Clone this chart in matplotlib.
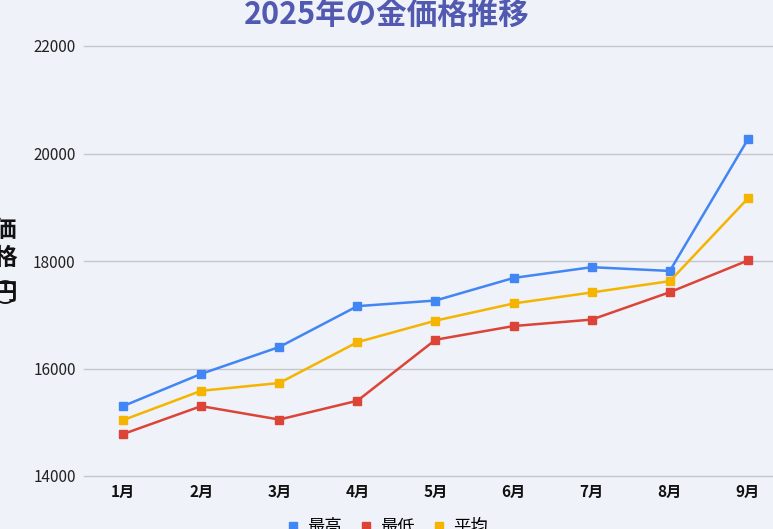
import matplotlib
matplotlib.use("Agg")
import matplotlib.pyplot as plt
from matplotlib.lines import Line2D

plt.rcParams["font.family"] = ["Noto Sans CJK JP", "DejaVu Sans"]

# data
months = ["1月", "2月", "3月", "4月", "5月", "6月", "7月", "8月", "9月"]
high = [15300, 15900, 16400, 17160, 17265, 17685, 17885, 17815, 20265]
low = [14780, 15300, 15050, 15400, 16535, 16790, 16910, 17420, 18010]
avg = [15040, 15585, 15730, 16490, 16890, 17210, 17415, 17625, 19165]
series_names = ["最高", "最低", "平均"]
y_ticks = [14000, 16000, 18000, 20000, 22000]

colors = ["#4285f4", "#db4437", "#f4b400"]
bg = "#eff2f8"

W, H = 773, 529
fig = plt.figure(figsize=(W / 100, H / 100), dpi=100, facecolor=bg)
# plot area runs past the right edge like the reference crop
ax = fig.add_axes([84 / W, 1 - 476 / H, (787 - 84) / W, (476 - 46) / H])
ax.set_facecolor(bg)

x = list(range(len(months)))
for vals, c in zip([high, low, avg], colors):
    ax.plot(x, vals, color=c, lw=1.8, marker="s", ms=5.5, zorder=3)

ax.set_xlim(-0.5, len(months) - 0.5)
ax.set_ylim(14000, 22000)
ax.set_yticks(y_ticks)
ax.set_yticklabels([str(t) for t in y_ticks], fontsize=11, color="#222222")
ax.set_xticks(x)
ax.set_xticklabels(months, fontsize=11, fontweight="bold", color="#111111")
ax.tick_params(axis="both", length=0)
ax.tick_params(axis="y", pad=6)
ax.tick_params(axis="x", pad=6)
ax.grid(axis="y", color="#c4c6cc", lw=1)
for gl in ax.get_ygridlines():
    gl.set_clip_on(False)
ax.set_axisbelow(True)
for s in ax.spines.values():
    s.set_visible(False)

fig.text(387 / W, 1 - 15 / H, "2025年の金価格推移", ha="center", va="center",
         fontsize=22, fontweight="bold", color="#5159b0")

# vertical y label, partly cut at the left edge
for ch, yy, fs in [("価", 230, 17), ("格", 258, 17), ("︵", 279, 12),
                   ("円", 293, 17), ("︶", 308, 12)]:
    fig.text(5 / W, 1 - yy / H, ch, ha="center", va="center",
             fontsize=fs, fontweight="bold", color="#111111")

handles = [Line2D([], [], ls="none", marker="s", ms=6, color=c) for c in colors]
fig.legend(handles, series_names, loc="center", bbox_to_anchor=(388 / W, 1 - 527 / H),
           ncol=3, frameon=False, fontsize=12.5, handlelength=0.6, handletextpad=0.5,
           columnspacing=1.1)

fig.savefig("out.png", dpi=100, facecolor=bg)
